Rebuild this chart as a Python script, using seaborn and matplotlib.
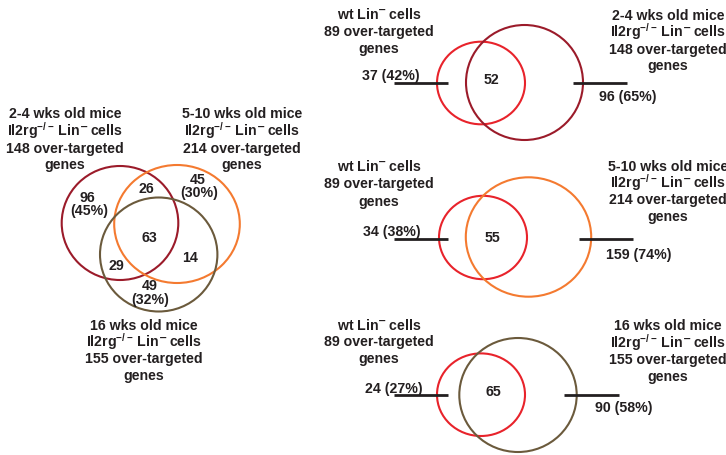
import matplotlib
matplotlib.use("Agg")
import matplotlib.pyplot as plt
from matplotlib.patches import Ellipse
import seaborn as sns

# ---------------- data ----------------
group_names = ["wt", "2-4 wks", "5-10 wks", "16 wks"]
group_totals = [89, 148, 214, 155]
group_colors = ["#e8232b", "#9b1b2a", "#f47a30", "#6b5a3c"]

# three-way Venn (2-4, 5-10, 16 wks)
venn3_values = ["96", "(45%)", "26", "45", "(30%)", "63", "14", "29", "49", "(32%)"]

# pairwise Venns wt vs each group
pair_left = ["37 (42%)", "34 (38%)", "24 (27%)"]
pair_mid = ["52", "55", "65"]
pair_right = ["96 (65%)", "159 (74%)", "90 (58%)"]

LIN = r"Lin$^{\mathbf{-}}\,$cells"
IL = r"Il2rg$^{-/-}\,$" + LIN
labels = {
    "wt": ["wt " + LIN, "89 over-targeted", "genes"],
    "2-4 wks": ["2-4 wks old mice", IL, "148 over-targeted", "genes"],
    "5-10 wks": ["5-10 wks old mice", IL, "214 over-targeted", "genes"],
    "16 wks": ["16 wks old mice", IL, "155 over-targeted", "genes"],
}

# ---------------- layout ----------------
sns.set_theme(style="white")
plt.rcParams["font.family"] = ["Liberation Sans", "DejaVu Sans"]
plt.rcParams["mathtext.default"] = "regular"
TXT = "#231f20"

fig = plt.figure(figsize=(7.26, 4.55), dpi=100)
ax = fig.add_axes([0, 0, 1, 1])
ax.set_xlim(0, 726)
ax.set_ylim(455, 0)
ax.axis("off")
sns.despine(ax=ax, left=True, bottom=True)

def ell(cx, cy, rx, ry, color):
    ax.add_patch(Ellipse((cx, cy), 2 * rx, 2 * ry, fill=False,
                         edgecolor=color, lw=1.5))

def txt(x, y, s):
    ax.text(x, y + 5.2, s, ha="center", va="baseline", fontsize=10.2,
            fontweight="bold", color=TXT)

def block(x, ys, lines):
    for y, s in zip(ys, lines):
        txt(x, y, s)

# three-way Venn
ell(120, 223, 58.3, 57, group_colors[1])
ell(177, 224, 62.8, 59, group_colors[2])
ell(158.7, 254.5, 58.7, 57, group_colors[3])
block(65, [113.3, 130.5, 147.3, 164], labels["2-4 wks"])
block(242, [113.3, 130.5, 147.3, 164], labels["5-10 wks"])
block(144, [325, 341.5, 358, 374.5], labels["16 wks"])
v3_pos = [(87.3, 197.3), (89.3, 210), (146.7, 187.7), (197.7, 179.3),
          (199.3, 192), (149.3, 237.3), (190, 257.3), (116.7, 265),
          (149.3, 284.3), (150, 298.5)]
for (x, y), s in zip(v3_pos, venn3_values):
    txt(x, y, s)

# pairwise Venns
pair_geo = [
    dict(a=(481, 83, 44, 41.3), b=(524.5, 82.5, 58.5, 57.5), ly=83.3,
         lx=(394, 448), rx=(573, 627), grp=1,
         ltxt=(390.7, 75), mtxt=(491.7, 78.3), rtxt=(628, 95.7),
         wl=(379, [14, 31, 47.7]), gl=(668, [15, 31.7, 48.5, 65])),
    dict(a=(483, 237.5, 44, 41.7), b=(528.5, 237, 62.7, 59.7), ly=239.3,
         lx=(394, 448), rx=(579, 633), grp=2,
         ltxt=(392, 231), mtxt=(492.7, 236.7), rtxt=(638.3, 253.3),
         wl=(379, [165.7, 183, 200.5]), gl=(668, [165.7, 182.5, 199, 216])),
    dict(a=(481, 394.7, 44, 41.3), b=(518, 395, 58.7, 57), ly=395,
         lx=(394, 448), rx=(564, 619), grp=3,
         ltxt=(394, 387.7), mtxt=(493.3, 391), rtxt=(623.3, 406.7),
         wl=(379, [324.3, 341, 358.3]), gl=(668, [325, 342.5, 359, 376])),
]
for g, l, m, r in zip(pair_geo, pair_left, pair_mid, pair_right):
    ell(*g["a"], group_colors[0])
    ell(*g["b"], group_colors[g["grp"]])
    ax.plot(g["lx"], [g["ly"], g["ly"]], color=TXT, lw=2, solid_capstyle="butt")
    ax.plot(g["rx"], [g["ly"], g["ly"]], color=TXT, lw=2, solid_capstyle="butt")
    txt(*g["ltxt"], l)
    txt(*g["mtxt"], m)
    txt(*g["rtxt"], r)
    block(g["wl"][0], g["wl"][1], labels["wt"])
    block(g["gl"][0], g["gl"][1], labels[group_names[g["grp"]]])

fig.savefig("out.png", dpi=100)
